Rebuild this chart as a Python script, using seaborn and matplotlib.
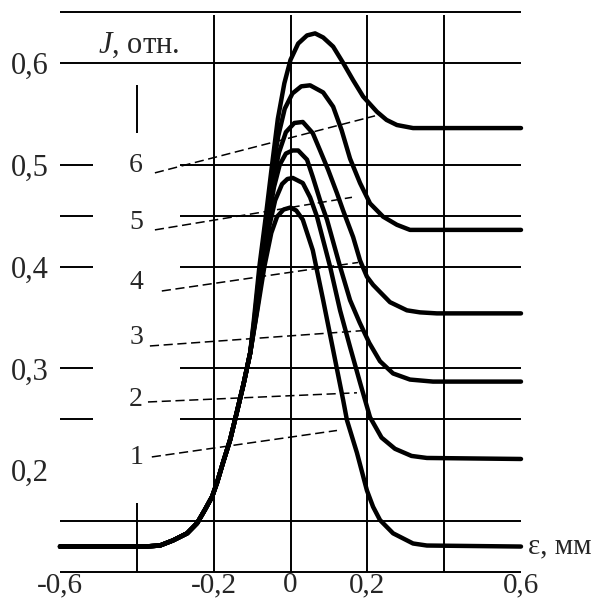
import pandas as pd
import matplotlib
matplotlib.use("Agg")
import matplotlib.pyplot as plt
import seaborn as sns

# common foot of all six pulses: flat baseline and lower part of the rising edge
foot_x = [-0.60, -0.45, -0.38, -0.34, -0.306, -0.269, -0.243, -0.223, -0.204,
          -0.191, -0.176, -0.157, -0.139, -0.122, -0.105]
foot_y = [0.125, 0.125, 0.125, 0.126, 0.131, 0.138, 0.148, 0.161, 0.174,
          0.188, 0.207, 0.230, 0.258, 0.285, 0.315]

# upper part of each curve
c1_x = [-0.085, -0.068, -0.05, -0.035, -0.018, 0.0, 0.015, 0.032, 0.058, 0.085,
        0.111, 0.137, 0.147, 0.173, 0.199, 0.215, 0.233, 0.267, 0.319, 0.355, 0.60]
c1_y = [0.36, 0.40, 0.433, 0.449, 0.456, 0.458, 0.455, 0.446, 0.416, 0.367,
        0.318, 0.269, 0.249, 0.217, 0.18, 0.164, 0.151, 0.138, 0.128, 0.126, 0.125]

c2_x = [-0.088, -0.072, -0.055, -0.04, -0.022, -0.008, 0.006, 0.032, 0.051, 0.069,
        0.103, 0.129, 0.155, 0.181, 0.207, 0.237, 0.272, 0.315, 0.355, 0.60]
c2_y = [0.355, 0.40, 0.44, 0.465, 0.481, 0.486, 0.487, 0.482, 0.468, 0.449,
        0.40, 0.357, 0.321, 0.286, 0.252, 0.232, 0.221, 0.214, 0.212, 0.211]

c3_x = [-0.09, -0.075, -0.058, -0.043, -0.028, -0.012, 0.005, 0.02, 0.043, 0.058,
        0.077, 0.095, 0.129, 0.155, 0.18, 0.205, 0.233, 0.267, 0.311, 0.371, 0.60]
c3_y = [0.352, 0.40, 0.445, 0.478, 0.50, 0.511, 0.514, 0.514, 0.505, 0.488,
        0.465, 0.446, 0.40, 0.367, 0.345, 0.325, 0.307, 0.295, 0.289, 0.287, 0.287]

c4_x = [-0.092, -0.077, -0.06, -0.045, -0.03, -0.012, 0.01, 0.032, 0.058, 0.077,
        0.098, 0.121, 0.137, 0.163, 0.181, 0.199, 0.215, 0.233, 0.259, 0.303,
        0.337, 0.381, 0.60]
c4_y = [0.35, 0.40, 0.448, 0.485, 0.512, 0.532, 0.541, 0.542, 0.531, 0.514,
        0.495, 0.472, 0.455, 0.429, 0.406, 0.390, 0.382, 0.375, 0.365, 0.357,
        0.355, 0.354, 0.354]

c5_x = [-0.094, -0.079, -0.062, -0.046, -0.032, -0.015, 0.005, 0.028, 0.051, 0.085,
        0.111, 0.133, 0.155, 0.181, 0.207, 0.241, 0.277, 0.311, 0.60]
c5_y = [0.348, 0.40, 0.45, 0.495, 0.528, 0.555, 0.57, 0.577, 0.578, 0.571,
        0.557, 0.534, 0.506, 0.482, 0.462, 0.449, 0.441, 0.436, 0.436]

c6_x = [-0.096, -0.081, -0.064, -0.048, -0.033, -0.016, 0.0, 0.02, 0.043, 0.064,
        0.085, 0.111, 0.137, 0.163, 0.189, 0.225, 0.25, 0.277, 0.319, 0.60]
c6_y = [0.345, 0.40, 0.45, 0.50, 0.545, 0.58, 0.603, 0.619, 0.627, 0.629,
        0.625, 0.616, 0.60, 0.583, 0.567, 0.552, 0.544, 0.539, 0.536, 0.536]

curve_names = ["1", "2", "3", "4", "5", "6"]
uppers = [(c1_x, c1_y), (c2_x, c2_y), (c3_x, c3_y),
          (c4_x, c4_y), (c5_x, c5_y), (c6_x, c6_y)]

x_ticks = [-0.6, -0.2, 0.0, 0.2, 0.6]
x_labels = ["-0,6", "-0,2", "0", "0,2", "0,6"]
y_ticks = [0.2, 0.3, 0.4, 0.5, 0.6]
y_labels = ["0,2", "0,3", "0,4", "0,5", "0,6"]

# grid: full horizontal lines, broken ones (gap for the curve numbers), verticals
h_full = [0.10, 0.15, 0.60, 0.65]
h_broken = [0.25, 0.30, 0.40, 0.45, 0.50]
v_full = [-0.2, 0.0, 0.2, 0.4]

# curve number labels and their leader lines (start, end)
label_y = [0.212, 0.269, 0.330, 0.384, 0.443, 0.499]
leaders = [((-0.361, 0.213), (0.121, 0.239)),
           ((-0.371, 0.267), (0.173, 0.276)),
           ((-0.366, 0.322), (0.186, 0.337)),
           ((-0.335, 0.376), (0.176, 0.404)),
           ((-0.353, 0.436), (0.160, 0.468)),
           ((-0.353, 0.492), (0.220, 0.548))]

rows = []
for name, (ux, uy) in zip(curve_names, uppers):
    for x, y in zip(foot_x + ux, foot_y + uy):
        rows.append({"curve": name, "x": x, "y": y})
df = pd.DataFrame(rows)

sns.set_style("white")
plt.rcParams["font.family"] = ["Liberation Serif", "DejaVu Serif"]
plt.rcParams["mathtext.fontset"] = "custom"
plt.rcParams["mathtext.it"] = "Liberation Serif:italic"
plt.rcParams["mathtext.rm"] = "Liberation Serif"

fig = plt.figure(figsize=(5.98, 6.05), dpi=100)
ax = fig.add_axes([60 / 598, 33 / 605, 461 / 598, 560 / 605])
ax.set_xlim(-0.6, 0.6)
ax.set_ylim(0.1, 0.65)
for s in ax.spines.values():
    s.set_visible(False)

gk = dict(color="black", lw=1.4, clip_on=False, zorder=1)
ax.hlines(h_full, -0.6, 0.6, **gk)
ax.hlines(h_broken, -0.6, -0.514, **gk)
ax.hlines(h_broken, -0.288, 0.6, **gk)
ax.vlines(v_full, 0.1, 0.647, **gk)
ax.vlines([-0.4], 0.531, 0.578, **gk)
ax.vlines([-0.4], 0.1, 0.168, **gk)

sns.lineplot(data=df, x="x", y="y", hue="curve", palette=["black"] * 6,
             sort=False, estimator=None, legend=False, lw=3.2, ax=ax)
for ln in ax.lines:
    ln.set_clip_on(False)
    ln.set_solid_joinstyle("round")

for (p0, p1) in leaders:
    ax.plot([p0[0], p1[0]], [p0[1], p1[1]], color="black", lw=1.1,
            dashes=(6, 3), zorder=2)

for name, y in zip(curve_names, label_y):
    ax.text(-0.402, y, name, fontsize=20, ha="center", va="center")

ax.text(-0.501, 0.610, r"$J$, отн.", fontsize=22, ha="left", va="baseline")
ax.text(0.618, 0.125, "ε, мм", fontsize=21, ha="left", va="center", clip_on=False)

ax.set_xticks(x_ticks, x_labels)
ax.set_yticks(y_ticks, y_labels)
ax.tick_params(axis="both", length=0)
ax.tick_params(axis="x", pad=0, labelsize=21)
ax.tick_params(axis="y", pad=8, labelsize=22)
ax.set_xlabel("")
ax.set_ylabel("")

fig.savefig("out.png", dpi=100)
